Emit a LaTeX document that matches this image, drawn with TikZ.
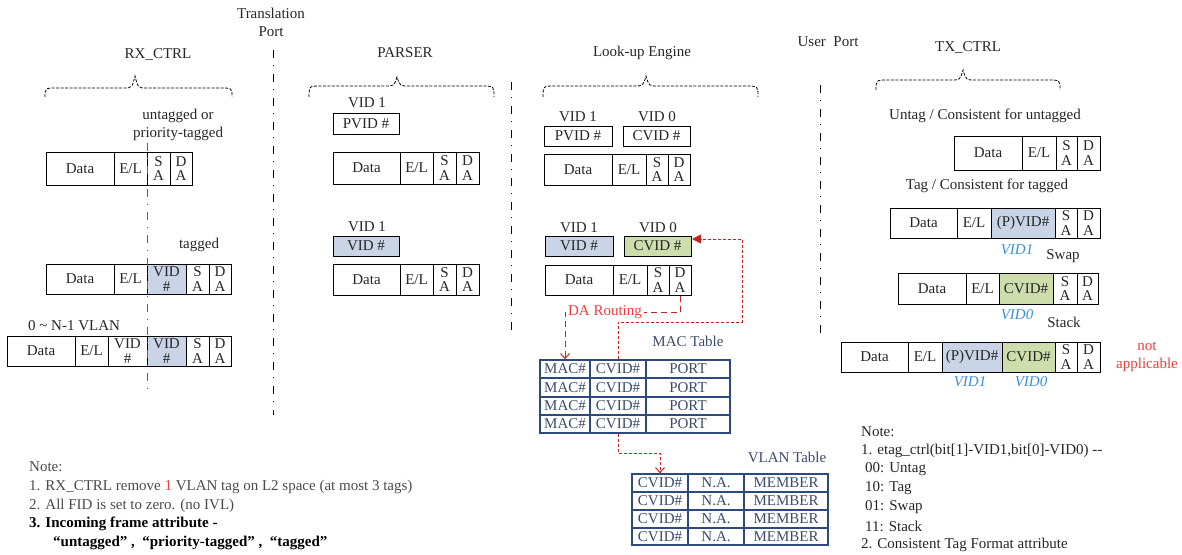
\documentclass[tikz,border=0pt]{standalone}
\usepackage{fontspec}
\setmainfont{Liberation Serif}
\usetikzlibrary{arrows.meta,calc}
\definecolor{vblue}{HTML}{C9D5E6}
\definecolor{vgreen}{HTML}{CEDDAC}
\definecolor{tabblue}{HTML}{2E4A7D}
\definecolor{tabtxt}{HTML}{3C4B6C}
\definecolor{rtxt}{HTML}{F03C3C}
\definecolor{rline}{HTML}{CC1F1F}
\definecolor{vidblue}{HTML}{3B8FD6}
\definecolor{lineblue}{HTML}{2E6DB4}
\definecolor{txt}{HTML}{262626}
\definecolor{notegray}{HTML}{4A4A4A}
\newcommand{\fs}{\fontsize{15}{15}\selectfont}
\newcommand{\fsTwo}{\fontsize{15}{14.5}\selectfont}
\newcommand{\fsLbl}{\fontsize{15}{18}\selectfont}
\newcommand{\fc}[7]{\node[cellbox,#7,minimum width={(#3-#2)*1pt},minimum height={(#5-#4)*1pt}] (#1) at ({(#2+#3)/2},{(#4+#5)/2}) {#6};}
\newcommand{\dbrace}[6]{\draw[bracestyle] (#1,#4) .. controls (#1,#5) .. ({#1+12},#5) -- ({#3-12},#5) .. controls ({#3-3},#5) .. (#3,#6) .. controls ({#3+3},#5) .. ({#3+12},#5) -- ({#2-12},#5) .. controls (#2,#5) .. (#2,#4);}
\tikzset{
  cellbox/.style={draw=black, line width=1pt, inner sep=0pt, font=\fs, text=txt},
  two/.style={align=center, font=\fsTwo},
  bluef/.style={fill=vblue},
  greenf/.style={fill=vgreen},
  tab/.style={draw=tabblue, line width=1.5pt, text=tabtxt},
  lbl/.style={inner sep=0pt, font=\fsLbl, text=txt, align=center},
  vidlbl/.style={inner sep=0pt, font=\fs\itshape, text=vidblue},
  redlbl/.style={inner sep=0pt, font=\fsLbl, text=rtxt, align=center},
  tablbl/.style={inner sep=0pt, font=\fs, text=tabtxt},
  note/.style={inner sep=0pt, font=\fs, text=txt, anchor=west},
  divline/.style={line width=1pt, dash pattern=on 8pt off 7pt on 1pt off 8pt},
  bluediv/.style={line width=1pt, draw=lineblue, dash pattern=on 8pt off 7pt on 1pt off 7pt},
  bracestyle/.style={line width=0.8pt, dash pattern=on 3pt off 1.5pt},
  reddashA/.style={line width=1pt, draw=rline, dash pattern=on 6pt off 4pt},
  reddashB/.style={line width=1pt, draw=rline, dash pattern=on 3pt off 2pt},
}
\begin{document}
\begin{tikzpicture}[x=1pt,y=-1pt]
\useasboundingbox (0,0) rectangle (1182,554);
% ---------- headings ----------
\node[lbl] (tport) at (271,22) {Translation\\Port};
\node[lbl] (uport) at (828,42) {User\ \ Port};
\node[lbl] (rxlbl) at (158,55) {RX\_CTRL};
\node[lbl] (parlbl) at (405,53) {PARSER};
\node[lbl] (lulbl) at (642,53) {Look-up Engine};
\node[lbl] (txlbl) at (968,48) {TX\_CTRL};
% braces
\dbrace{45}{232}{135}{97}{88}{76}
\dbrace{309}{494}{397}{97}{86}{77}
\dbrace{543}{758}{646}{97}{86}{76}
\dbrace{876}{1060}{963}{90}{80}{70}
% dividers
\coordinate (d1t) at (273,50); \coordinate (d1b) at (273,415);
\coordinate (d2t) at (511,82); \coordinate (d2b) at (511,335);
\coordinate (d3t) at (820,85); \coordinate (d3b) at (820,337);
\draw[divline] (d1t) -- (d1b);
\draw[divline] (d2t) -- (d2b);
\draw[divline] (d3t) -- (d3b);
% ---------- RX_CTRL ----------
\node[lbl] (untg) at (178,125) {untagged or\\priority-tagged};
\fc{a1d}{46}{114}{152}{185}{Data}{}
\fc{a1e}{114}{147}{152}{185}{E/L}{}
\fc{a1s}{147}{170}{152}{185}{S\\A}{two}
\fc{a1a}{170}{192}{152}{185}{D\\A}{two}
\node[lbl] (tagd) at (199,245) {tagged};
\fc{a2d}{46}{114}{264}{294}{Data}{}
\fc{a2e}{114}{147}{264}{294}{E/L}{}
\fc{a2v}{147}{186}{264}{294}{VID\\\#}{two,bluef}
\fc{a2s}{186}{209}{264}{294}{S\\A}{two}
\fc{a2a}{209}{231}{264}{294}{D\\A}{two}
\node[lbl] (nvlan) at (74,326) {0 \char`~\ N-1 VLAN};
\fc{a3d}{7}{75}{336}{366}{Data}{}
\fc{a3e}{75}{108}{336}{366}{E/L}{}
\fc{a3v}{108}{147}{336}{366}{VID\\\#}{two}
\fc{a3w}{147}{186}{336}{366}{VID\\\#}{two,bluef}
\fc{a3s}{186}{209}{336}{366}{S\\A}{two}
\fc{a3a}{209}{231}{336}{366}{D\\A}{two}
\coordinate (bt) at (147,143); \coordinate (bb) at (147,395);
\draw[bluediv] (bt) -- (bb);
% ---------- PARSER ----------
\node[lbl] (pv1) at (367,103) {VID 1};
\fc{ppv}{333}{399}{113}{134}{PVID \#}{}
\fc{p1d}{333}{400}{152}{184}{Data}{}
\fc{p1e}{400}{433}{152}{184}{E/L}{}
\fc{p1s}{433}{456}{152}{184}{S\\A}{two}
\fc{p1a}{456}{479}{152}{184}{D\\A}{two}
\node[lbl] (pv2) at (367,227) {VID 1};
\fc{pvv}{333}{399}{236}{256}{VID \#}{bluef}
\fc{p2d}{333}{400}{264}{295}{Data}{}
\fc{p2e}{400}{433}{264}{295}{E/L}{}
\fc{p2s}{433}{456}{264}{295}{S\\A}{two}
\fc{p2a}{456}{479}{264}{295}{D\\A}{two}
% ---------- Look-up Engine ----------
\node[lbl] (lv1) at (578,117) {VID 1};
\node[lbl] (lv0) at (657,117) {VID 0};
\fc{lpv}{544}{612}{126}{146}{PVID \#}{}
\fc{lcv}{623}{690}{126}{146}{CVID \#}{}
\fc{l1d}{544}{612}{154}{185}{Data}{}
\fc{l1e}{612}{646}{154}{185}{E/L}{}
\fc{l1s}{646}{668}{154}{185}{S\\A}{two}
\fc{l1a}{668}{690}{154}{185}{D\\A}{two}
\node[lbl] (lv2) at (579,228) {VID 1};
\node[lbl] (lv3) at (658,228) {VID 0};
\fc{l2v}{545}{613}{236}{256}{VID \#}{bluef}
\fc{l2c}{624}{691}{236}{256}{CVID \#}{greenf}
\fc{l2d}{545}{613}{265}{295}{Data}{}
\fc{l2e}{613}{647}{265}{295}{E/L}{}
\fc{l2s}{647}{669}{265}{295}{S\\A}{two}
\fc{l2a}{669}{691}{265}{295}{D\\A}{two}
% MAC table
\node[tablbl] (mactl) at (688,341) {MAC Table};
\foreach \r/\ya/\yb in {1/360/378,2/378/397,3/397/415,4/415/433}{
  \fc{m\r1}{540}{590}{\ya}{\yb}{MAC\#}{tab}
  \fc{m\r2}{590}{646}{\ya}{\yb}{CVID\#}{tab}
  \fc{m\r3}{646}{730}{\ya}{\yb}{PORT}{tab}
}
% VLAN table
\node[tablbl] (vlantl) at (787,457) {VLAN Table};
\foreach \r/\ya/\yb in {1/474/492,2/492/510,3/510/528,4/528/545}{
  \fc{v\r1}{632}{688}{\ya}{\yb}{CVID\#}{tab}
  \fc{v\r2}{688}{744}{\ya}{\yb}{N.A.}{tab}
  \fc{v\r3}{744}{828}{\ya}{\yb}{MEMBER}{tab}
}
% red routing paths
\node[redlbl, inner sep=1.5pt] (dar) at (605,312) {DA Routing};
\draw[reddashA] (l2a.south) |- (dar.east);
\draw[reddashA, -{Straight Barb[length=5pt,width=9pt]}] (dar.west) -| (m11.north);
\coordinate (k1) at (742,322);
\coordinate (k2) at (742,239);
\coordinate (k3) at (692,239);
\draw[reddashB, -{Triangle[length=9pt,width=9pt]}] (m12.north) |- (k1) -- (k2) -- (k3);
\draw[reddashB, -{Straight Barb[length=5pt,width=9pt]}] (m42.south) |- ($(v11.north)+(0,-20)$) -- (v11.north);
% ---------- TX_CTRL ----------
\node[lbl] (untgc) at (985,116) {Untag / Consistent for untagged};
\fc{t1d}{954}{1022}{136}{170}{Data}{}
\fc{t1e}{1022}{1056}{136}{170}{E/L}{}
\fc{t1s}{1056}{1077}{136}{170}{S\\A}{two}
\fc{t1a}{1077}{1100}{136}{170}{D\\A}{two}
\node[lbl] (tgc) at (987,186) {Tag / Consistent for tagged};
\fc{t2d}{890}{957}{208}{238}{Data}{}
\fc{t2e}{957}{991}{208}{238}{E/L}{}
\fc{t2v}{991}{1055}{208}{238}{(P)VID\#}{bluef}
\fc{t2s}{1055}{1077}{208}{238}{S\\A}{two}
\fc{t2a}{1077}{1100}{208}{238}{D\\A}{two}
\node[vidlbl] (t2l) at (1017,250) {VID1};
\node[lbl] (swp) at (1063,256) {Swap};
\fc{t3d}{898}{966}{273}{304}{Data}{}
\fc{t3e}{966}{999}{273}{304}{E/L}{}
\fc{t3c}{999}{1053}{273}{304}{CVID\#}{greenf}
\fc{t3s}{1053}{1077}{273}{304}{S\\A}{two}
\fc{t3a}{1077}{1098}{273}{304}{D\\A}{two}
\node[vidlbl] (t3l) at (1017,315) {VID0};
\node[lbl] (stk) at (1064,322) {Stack};
\fc{t4d}{841}{908}{342}{372}{Data}{}
\fc{t4e}{908}{942}{342}{372}{E/L}{}
\fc{t4v}{942}{1002}{342}{372}{(P)VID\#}{bluef}
\fc{t4c}{1002}{1055}{342}{372}{CVID\#}{greenf}
\fc{t4s}{1055}{1077}{342}{372}{S\\A}{two}
\fc{t4a}{1077}{1100}{342}{372}{D\\A}{two}
\node[vidlbl] (t4l1) at (970,382) {VID1};
\node[vidlbl] (t4l0) at (1031,382) {VID0};
\node[redlbl] (nap) at (1147,357) {not\\applicable};
% ---------- notes ----------
\node[note, text=notegray] (nl0) at (29,467) {Note:};
\node[note, text=notegray] (nl1) at (29,487) {1. RX\_CTRL remove \textcolor{rtxt}{1} VLAN tag on L2 space (at most 3 tags)};
\node[note, text=notegray] (nl2) at (29,506) {2. All FID is set to zero. (no IVL)};
\node[note, text=black, font=\fs\bfseries] (nl3) at (29,524) {3. Incoming frame attribute -};
\node[note, text=black, font=\fs\bfseries] (nl4) at (53,543) {“untagged”\ ,\ \ “priority-tagged”\ ,\ \ “tagged”};
\node[note] (nr0) at (861,432) {Note:};
\node[note] (nr1) at (861,451) {1. etag\_ctrl(bit[1]-VID1,bit[0]-VID0) {-}{-}};
\node[note] (nr2) at (865,469) {00: Untag};
\node[note] (nr3) at (865,488) {10: Tag};
\node[note] (nr4) at (865,507) {01: Swap};
\node[note] (nr5) at (865,526) {11: Stack};
\node[note] (nr6) at (861,545) {2. Consistent Tag Format attribute};
\end{tikzpicture}
\end{document}
